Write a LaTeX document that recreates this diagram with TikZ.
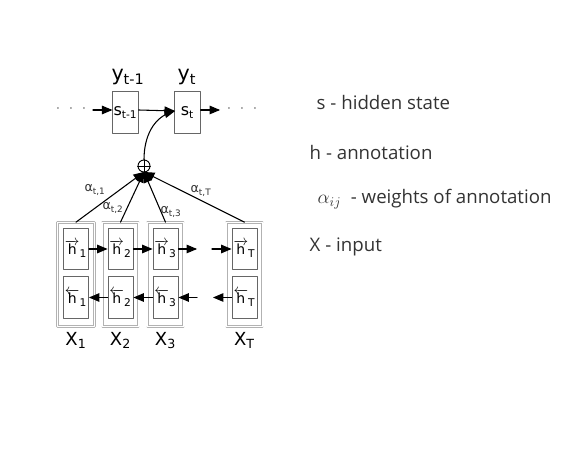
\documentclass[tikz,border=0pt]{standalone}
\usepackage{fontspec}
\setmainfont{Open Sans}
\newfontfamily\dejavu{DejaVu Sans}
\usetikzlibrary{arrows}

\newcommand{\fwdh}[1]{$\overrightarrow{\mbox{h}}_{\mbox{\fontsize{8}{9}\selectfont #1}}$}
\newcommand{\bwdh}[1]{$\overleftarrow{\mbox{h}}_{\mbox{\fontsize{8}{9}\selectfont #1}}$}

\tikzset{
  colbox/.style={draw=gray!60, double=white, double distance=1.2pt, line width=0.5pt,
    minimum width=27.5pt, minimum height=78pt, inner sep=0pt},
  hbox/.style={draw=gray!80!black, line width=0.7pt, minimum width=18.75pt,
    minimum height=31pt, inner sep=0pt, font=\dejavu\fontsize{10.5}{12}\selectfont},
  sbox/.style={draw=gray!80!black, line width=0.7pt, minimum width=19pt,
    minimum height=32pt, inner sep=0pt, font=\dejavu\fontsize{12}{14}\selectfont},
  weight/.style={font=\dejavu\fontsize{9.5}{10}\selectfont, text=black!80},
  xlab/.style={font=\dejavu\fontsize{13.5}{15}\selectfont},
  ylab/.style={font=\dejavu\fontsize{15.5}{17}\selectfont},
  legend/.style={anchor=west, font=\fontsize{14}{16}\selectfont, text=black!80},
  link/.style={->, line width=0.8pt}
}

\begin{document}
\begin{tikzpicture}[line cap=round,line join=round,>=triangle 45,x=0.75pt,y=-0.75pt]
  \useasboundingbox (0,0) rectangle (564,473);
  %%%% DECODER
  \node[sbox] (st1) at (125.5,112.5) {s\textsubscript{t-1}};
  \node[sbox] (st) at (187.5,112.5) {s\textsubscript{t}};
  \node[ylab] (yt1) at (128,77) {y\textsubscript{t-1}};
  \node[ylab] (yt) at (187,77) {y\textsubscript{t}};
  \node[font=\fontsize{9}{9}\selectfont] (dotsl) at (71,109) {$\cdot\;\;\cdot\;\;\cdot$};
  \node[font=\fontsize{9}{9}\selectfont] (dotsr) at (242,109) {$\cdot\;\;\cdot\;\;\cdot$};
  \coordinate (inl) at (93,110);
  \coordinate (outr) at (220,110);
  \draw[link] (inl) -- (st1.west |- inl);
  \draw[link] (st1.east |- inl) -- (175,111);
  \draw[link] (st.east |- inl) -- (outr);

  %%%% SUM
  \node[circle, draw, line width=0.7pt, minimum size=9pt, inner sep=0pt] (plus) at (144,166) {};
  \draw[line width=0.7pt] (plus.north) -- (plus.south) (plus.west) -- (plus.east);
  \coordinate (star) at (144,172);
  \draw[link] (plus.north) to[out=90, in=195] (175,111);

  %%%% ENCODER
  \foreach \name/\x in {1/76, 2/120.5, 3/165.5, T/244.5}{
    \node[colbox] (col\name) at (\x,274.5) {};
    \node[hbox] (f\name) at (\x,249) {\fwdh{\name}};
    \node[hbox] (b\name) at (\x,297.5) {\bwdh{\name}};
    \node[xlab, anchor=north] (x\name) at (\x,328) {X\textsubscript{\name}};
    \draw[link] (col\name.north) -- (star);
  }

  %%%% PESOS
  \node[weight] (a1) at (95,190) {α\textsubscript{t,1}};
  \node[weight] (a2) at (113,208) {α\textsubscript{t,2}};
  \node[weight] (a3) at (171,212) {α\textsubscript{t,3}};
  \node[weight] (aT) at (201,191) {α\textsubscript{t,T}};

  %%%% FORWARD / BACKWARD
  \coordinate (fgapl) at (197,249);
  \coordinate (fgapr) at (212,249);
  \coordinate (bgapl) at (197,297.5);
  \coordinate (bgapr) at (213,297.5);
  \draw[link] (f1) -- (f2);
  \draw[link] (f2) -- (f3);
  \draw[link] (f3.east) -- (fgapl);
  \draw[link] (fgapr) -- (fT.west);
  \draw[link] (bT.west) -- (bgapr);
  \draw[link] (bgapl) -- (b3.east);
  \draw[link] (b3) -- (b2);
  \draw[link] (b2) -- (b1);

  %%%% LEYENDA
  \node[legend] (ls) at (312,103) {s - hidden state};
  \node[legend] (lh) at (305,153) {h - annotation};
  \node[legend] (la) at (313,199) {$\alpha_{ij}$\ \ - weights of annotation};
  \node[legend] (lx) at (305,247) {X - input};
\end{tikzpicture}
\end{document}
